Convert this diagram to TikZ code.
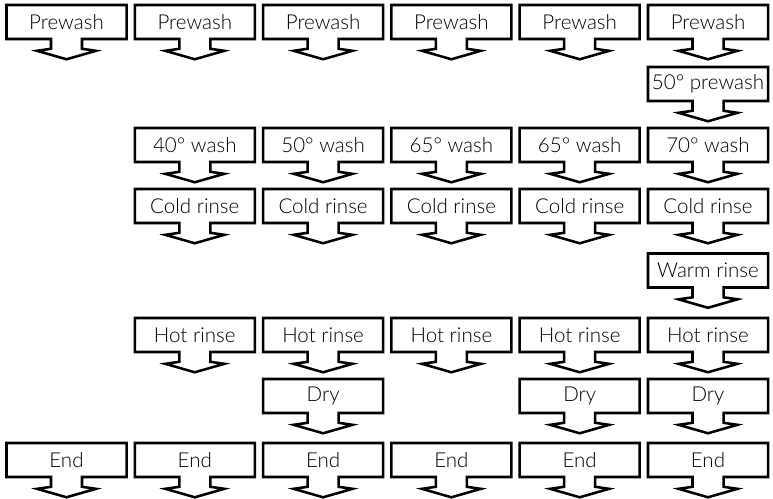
\documentclass[tikz,border=0pt]{standalone}
\usepackage{fontspec}
\IfFontExistsTF{Lato Light}{\setmainfont{Lato Light}}{\setmainfont{Lato}}
\usetikzlibrary{shapes.arrows}

\begin{document}
\begin{tikzpicture}[
    x=0.025cm, y=-0.025cm,
    line width=1.8pt,
    every node/.style={align=center},
    stage/.style={draw, arrow box, fill=white,
                  font=\fontsize{14.6}{16}\selectfont,
                  minimum width=3cm, minimum height=0.85cm, inner sep=0pt,
                  arrow box arrows={south:0.475cm},
                  arrow box shaft width=0.775cm,
                  arrow box head extend=0.35cm,
                  arrow box head indent=-0.05cm,
                  arrow box tip angle=148}
]
\useasboundingbox (0,0) rectangle (773,498);

% 1) Prewash in every programme.
\foreach \i in {1,...,6} {
  \node[stage] (prewash\i) at ({66.5+128.3*(\i-1)}, 22) {Prewash};
}

% 2) Extra prewash, last programme only.
\node[stage] (hotprewash6) at (708, 84) {50° prewash};

% 3) Main wash.
\foreach \i/\t in {2/40, 3/50, 4/65, 5/65, 6/70} {
  \node[stage] (wash\i) at ({66.5+128.3*(\i-1)}, 145) {\t° wash};
}

% 4) Cold rinse.
\foreach \i in {2,...,6} {
  \node[stage] (coldrinse\i) at ({66.5+128.3*(\i-1)}, 206) {Cold rinse};
}

% 5) Warm rinse, last programme only.
\node[stage] (warmrinse6) at (708, 270.5) {Warm rinse};

% 6) Hot rinse.
\foreach \i in {2,...,6} {
  \node[stage] (hotrinse\i) at ({66.5+128.3*(\i-1)}, 335) {Hot rinse};
}

% 7) Dry.
\foreach \i in {3,5,6} {
  \node[stage] (dry\i) at ({66.5+128.3*(\i-1)}, 396) {Dry};
}

% 8) End of every programme.
\foreach \i in {1,...,6} {
  \node[stage] (end\i) at ({66.5+128.3*(\i-1)}, 460) {End};
}

\end{tikzpicture}
\end{document}
